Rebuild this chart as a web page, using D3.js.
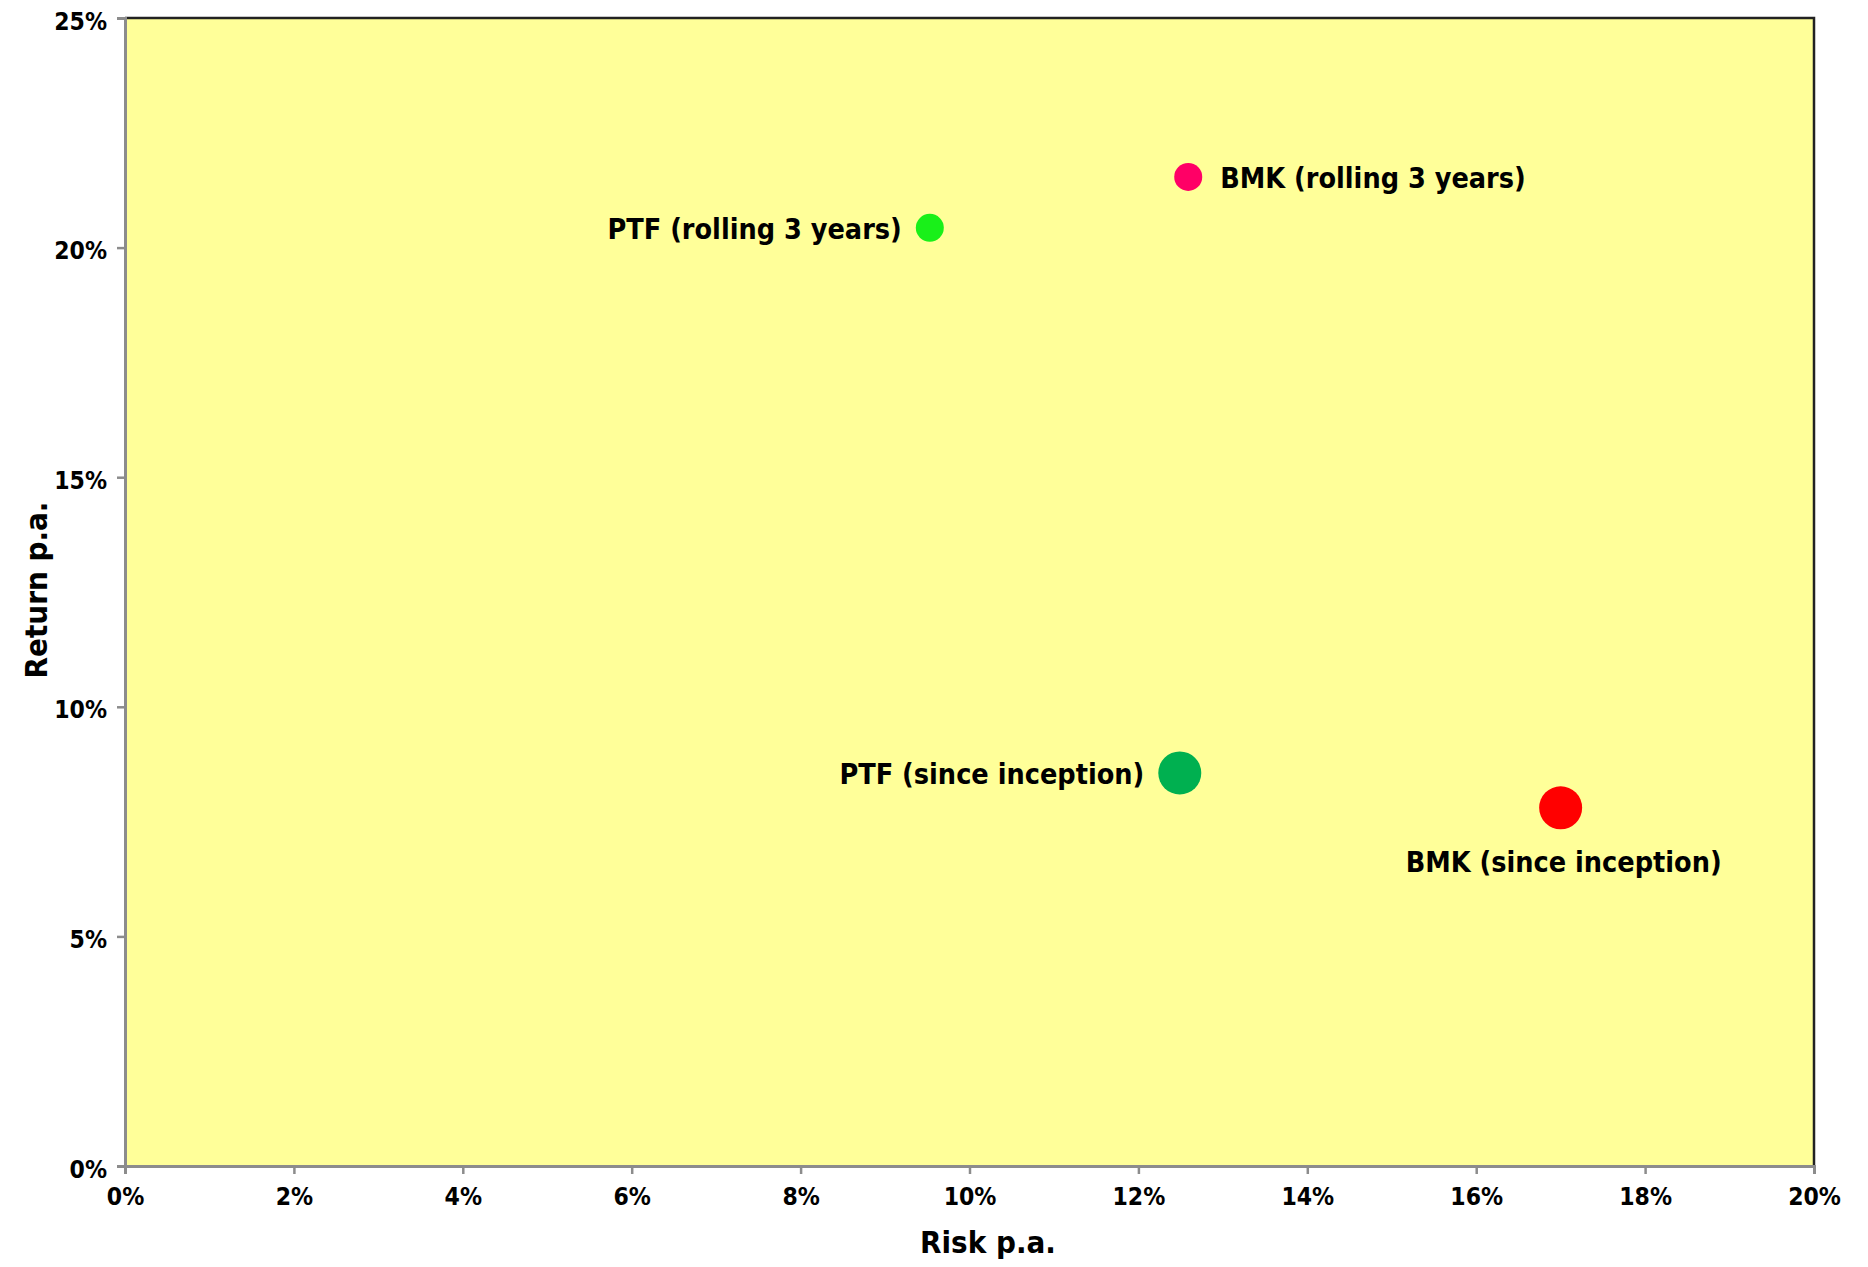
<!DOCTYPE html>
<html>
<head>
<meta charset="utf-8">
<script src="https://cdn.jsdelivr.net/npm/d3@7"></script>
<style>
  body { margin: 0; background: #fff; }
  text { font-family: "DejaVu Sans Condensed", "DejaVu Sans", sans-serif; font-weight: bold; fill: #000; }
</style>
</head>
<body>
<script>
var w = 1868;
var h = 1267;

// data (risk / return in %)
var names = ["PTF (rolling 3 years)", "BMK (rolling 3 years)", "PTF (since inception)", "BMK (since inception)"];
var risk = [9.53, 12.59, 12.49, 17.0];
var ret = [20.43, 21.54, 8.56, 7.8];
var colors = ["#19f019", "#ff0066", "#00b050", "#ff0000"];
var xTicks = [0, 2, 4, 6, 8, 10, 12, 14, 16, 18, 20];
var yTicks = [0, 5, 10, 15, 20, 25];

var pLeft = 125, pRight = 1814, pTop = 18, pBottom = 1166;

var x = d3.scaleLinear().domain([0, 20]).range([pLeft, pRight]);
var y = d3.scaleLinear().domain([0, 25]).range([pBottom, pTop]);

var svg = d3.select("body")
    .append("svg")
    .attr("width", w)
    .attr("height", h);

// plot area
svg.append("rect")
    .attr("x", pLeft).attr("y", pTop)
    .attr("width", pRight - pLeft).attr("height", pBottom - pTop)
    .attr("fill", "#ffff99");

// frame top/right in black
svg.append("path")
    .attr("d", "M" + pLeft + "," + pTop + "H" + pRight + "V" + pBottom)
    .attr("fill", "none")
    .attr("stroke", "#222")
    .attr("stroke-width", 2.5);

var fmt = function(d) { return d + "%"; };

var xAxis = svg.append("g")
    .attr("transform", "translate(0," + pBottom + ")")
    .call(d3.axisBottom(x).tickValues(xTicks).tickFormat(fmt).tickSize(8).tickPadding(14));

var yAxis = svg.append("g")
    .attr("transform", "translate(" + pLeft + ",0)")
    .call(d3.axisLeft(y).tickValues(yTicks).tickFormat(fmt).tickSize(8).tickPadding(10));

[xAxis, yAxis].forEach(function(g) {
    g.select(".domain").attr("stroke", "#8c8c8c").attr("stroke-width", 3);
    g.selectAll(".tick line").attr("stroke", "#8c8c8c").attr("stroke-width", 2.5);
    g.selectAll(".tick text")
        .attr("font-size", 24.5)
        .attr("font-family", "DejaVu Sans Condensed, DejaVu Sans, sans-serif")
        .attr("font-weight", "bold")
        .attr("fill", "#000");
});
yAxis.selectAll(".tick text").attr("dy", "0.45em");

// axis titles
svg.append("text")
    .attr("x", 988).attr("y", 1253)
    .attr("text-anchor", "middle")
    .attr("font-size", 31)
    .text("Risk p.a.");

svg.append("text")
    .attr("transform", "translate(47,590) rotate(-90)")
    .attr("text-anchor", "middle")
    .attr("font-size", 31)
    .text("Return p.a.");

// points
var pts = names.map(function(n, i) {
    return { name: n, risk: risk[i], ret: ret[i], color: colors[i], big: i >= 2 };
});

svg.selectAll("circle.pt")
    .data(pts)
    .enter().append("circle")
    .attr("class", "pt")
    .attr("cx", function(d) { return x(d.risk); })
    .attr("cy", function(d) { return y(d.ret); })
    .attr("r", function(d) { return d.big ? 21.5 : 14; })
    .attr("fill", function(d) { return d.color; });

// labels: placement per point (left / right / below)
var place = ["left", "right", "left", "below"];
svg.selectAll("text.lbl")
    .data(pts)
    .enter().append("text")
    .attr("class", "lbl")
    .attr("font-size", 28.5)
    .attr("dominant-baseline", "central")
    .attr("text-anchor", function(d, i) {
        return place[i] == "left" ? "end" : place[i] == "right" ? "start" : "middle";
    })
    .attr("x", function(d, i) {
        var r = d.big ? 21.5 : 14;
        if (place[i] == "left") return x(d.risk) - r - 14;
        if (place[i] == "right") return x(d.risk) + r + 18;
        return x(d.risk) + 3;
    })
    .attr("y", function(d, i) {
        return place[i] == "below" ? y(d.ret) + 55 : y(d.ret) + 2;
    })
    .text(function(d) { return d.name; });
</script>
</body>
</html>
